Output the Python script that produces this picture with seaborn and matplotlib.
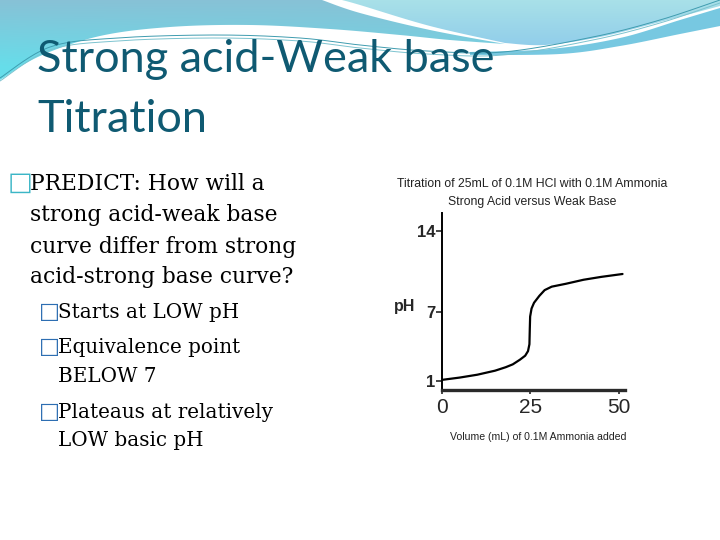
import numpy as np
import pandas as pd
import matplotlib
matplotlib.use("Agg")
import matplotlib.pyplot as plt
from matplotlib.patches import Polygon
import seaborn as sns

# ---- data ----
volume_ml = [0, 5, 10, 15, 18, 20, 22, 23.5, 24.3, 24.7, 24.8, 24.9, 25.3, 26, 27.5, 29, 31, 35, 40, 45, 51]
ph_values = [1.1, 1.3, 1.55, 1.9, 2.2, 2.45, 2.85, 3.2, 3.6, 4.2, 5.5, 6.6, 7.3, 7.8, 8.4, 8.9, 9.2, 9.45, 9.8, 10.05, 10.3]
x_ticks = [0, 25, 50]
y_ticks = [1, 7, 14]

slide_title = ["Strong acid-Weak base", "Titration"]
main_bullet = ["PREDICT: How will a", "strong acid-weak base", "curve differ from strong", "acid-strong base curve?"]
sub_bullets = [["Starts at LOW pH"], ["Equivalence point", "BELOW 7"], ["Plateaus at relatively", "LOW basic pH"]]
chart_title = ["Titration of 25mL of 0.1M HCl with 0.1M Ammonia", "Strong Acid versus Weak Base"]
x_label = "Volume (mL) of 0.1M Ammonia added"
y_label = "pH"

sns.set_style("white")
plt.rcParams["font.family"] = ["DejaVu Sans"]

W, H = 720, 540
fig = plt.figure(figsize=(7.2, 5.4), dpi=100)
fig.patch.set_facecolor("white")


def fy(y):
    return 1 - y / H


def fx(x):
    return x / W


def catmull(pts, n=20):
    pts = np.asarray(pts, float)
    P = np.vstack([pts[0], pts, pts[-1]])
    out = []
    for i in range(1, len(P) - 2):
        p0, p1, p2, p3 = P[i - 1], P[i], P[i + 1], P[i + 2]
        t = np.linspace(0, 1, n, endpoint=False)[:, None]
        c = 0.5 * ((2 * p1) + (-p0 + p2) * t + (2 * p0 - 5 * p1 + 4 * p2 - p3) * t ** 2
                   + (-p0 + 3 * p1 - 3 * p2 + p3) * t ** 3)
        out.append(c)
    out.append(pts[-1][None, :])
    return np.vstack(out)


# ---- decorative background ----
bg = fig.add_axes([0, 0, 1, 1], zorder=0)
bg.set_xlim(0, W)
bg.set_ylim(H, 0)
bg.axis("off")

# region A (blue, gradient)
stripe_low = catmull([(322, 0), (360, 13), (430, 30), (505, 44)])
a_bottom = catmull([(505, 44), (450, 40), (400, 35), (330, 29), (250, 25), (170, 27), (100, 36), (40, 56), (0, 80)])
polyA = np.vstack([[(0, 0)], stripe_low, a_bottom])
pA = Polygon(polyA, closed=True, facecolor="none", edgecolor="none")
bg.add_patch(pA)
gx, gy = np.meshgrid(np.linspace(0, 1, 200), np.linspace(0, 1, 60))
t = np.clip(0.75 * gy + 0.5 * (1 - gx) * gy, 0, 1)
c1 = np.array([0.53, 0.76, 0.84])
c2 = np.array([0.40, 0.87, 0.92])
img = c1[None, None, :] * (1 - t[..., None]) + c2[None, None, :] * t[..., None]
im = bg.imshow(img, extent=(0, 520, 85, 0), aspect="auto", zorder=1)
im.set_clip_path(pA)

# region B (light cyan)
stripe_up = catmull([(505, 43), (430, 26), (360, 5), (342, 0)])
b_bottom = catmull([(720, 6), (660, 22), (600, 37), (545, 45), (505, 43)])
polyB = np.vstack([[(342, 0), (720, 0)], b_bottom, stripe_up])
pB = Polygon(polyB, closed=True, facecolor="none", edgecolor="none")
bg.add_patch(pB)
tB = np.clip(gy, 0, 1)
cb1 = np.array([0.66, 0.88, 0.91])
cb2 = np.array([0.56, 0.80, 0.92])
imgB = cb1[None, None, :] * (1 - tB[..., None]) + cb2[None, None, :] * tB[..., None]
imB = bg.imshow(imgB, extent=(330, 720, 50, 0), aspect="auto", zorder=1)
imB.set_clip_path(pB)

# region C (mid blue band)
c_up = catmull([(470, 52), (550, 49), (620, 38), (680, 20), (720, 8)])
c_low = catmull([(720, 26), (680, 34), (620, 46), (560, 54), (470, 55)])
bg.add_patch(Polygon(np.vstack([c_up, c_low]), closed=True, facecolor="#5fbfdc",
                     edgecolor="none", alpha=0.85, zorder=2))

# thin lines
for off, col in [(0, "#3f9caf"), (3, "#7cc3cf")]:
    ln = catmull([(0, 78 + off), (50, 47 + off), (117, 38 + off), (217, 35 + off), (300, 38 + off),
                  (360, 45 + off), (427, 51 + off), (503, 52 + off), (593, 37 + off), (660, 20 + off), (720, 0 + off)])
    bg.plot(ln[:, 0], ln[:, 1], color=col, lw=0.7, zorder=3)

# ---- slide title ----
title_font = ["Lato", "DejaVu Sans"]
fig.text(fx(37), fy(72), slide_title[0], fontsize=32.5, color="#0f5a72", family=title_font, va="baseline", zorder=5)
fig.text(fx(37), fy(132), slide_title[1], fontsize=32.5, color="#0f5a72", family=title_font, va="baseline", zorder=5)

# ---- bullets ----
serif = ["DejaVu Serif"]
main_base = [190, 221.5, 252.5, 283.5]
fig.text(fx(8), fy(190), "\u25a1", fontsize=19, color="#3cb6c6", family=["DejaVu Sans"], va="baseline")
for y, s in zip(main_base, main_bullet):
    fig.text(fx(30), fy(y), s, fontsize=15.7, family=serif, va="baseline", color="black")

sub_base = [[318], [353, 382], [418, 446]]
for ys, lines in zip(sub_base, sub_bullets):
    fig.text(fx(39), fy(ys[0]), "\u25a1", fontsize=16, color="#2d6eb2", family=["DejaVu Sans"], va="baseline")
    for y, s in zip(ys, lines):
        fig.text(fx(58), fy(y), s, fontsize=14.3, family=serif, va="baseline", color="black")

# ---- chart ----
narrow = ["Liberation Sans"]
ax = fig.add_axes([442 / W, 1 - 390 / H, (625 - 442) / W, (390 - 213) / H], zorder=4)
ax.set_facecolor("white")
df = pd.DataFrame({"volume": volume_ml, "pH": ph_values})
sns.lineplot(data=df, x="volume", y="pH", ax=ax, color="black", lw=1.6, sort=False)
ax.set_xlim(0, 51.7)
ax.set_ylim(0.22, 15.6)
ax.set_xticks(x_ticks)
ax.set_yticks(y_ticks)
ax.set_xticklabels([str(v) for v in x_ticks], fontsize=15, family=narrow)
ax.set_yticklabels([str(v) for v in y_ticks], fontsize=12, family=narrow, fontweight="bold")
ax.tick_params(axis="y", direction="out", length=4, width=1.2, pad=1, left=True)
ax.tick_params(axis="x", direction="out", length=3, width=1.2, pad=3, bottom=True)
for s in ["top", "right"]:
    ax.spines[s].set_visible(False)
ax.spines["left"].set_linewidth(1.4)
ax.spines["left"].set_color("black")
ax.spines["bottom"].set_linewidth(2.4)
ax.spines["bottom"].set_color("#2a2a2a")
ax.set_xlabel("")
ax.set_ylabel("")

fig.text(fx(405), fy(306), y_label, fontsize=11.5, family=narrow, fontweight="bold", ha="center", va="center")
fig.text(fx(532), fy(187), chart_title[0], fontsize=8.8, family=narrow, ha="center", va="baseline", color="#222222")
fig.text(fx(532), fy(205), chart_title[1], fontsize=8.8, family=narrow, ha="center", va="baseline", color="#222222")
fig.text(fx(538), fy(440), x_label, fontsize=7.6, family=narrow, ha="center", va="baseline", color="#222222")

fig.savefig("out.png", dpi=100)
